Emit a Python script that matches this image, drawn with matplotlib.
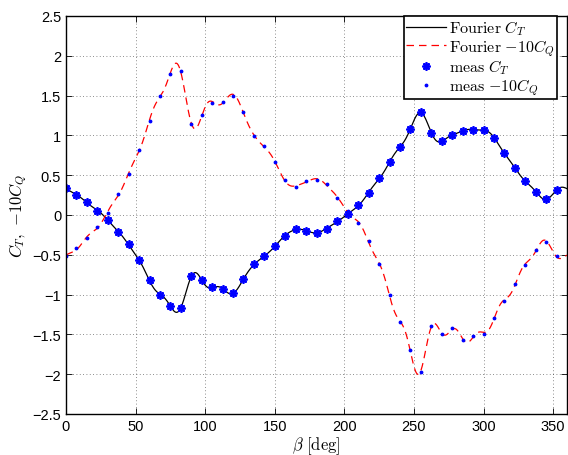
import numpy as np
import matplotlib
matplotlib.use('Agg')
import matplotlib.pyplot as plt

plt.rcParams['font.family'] = ['Liberation Sans', 'DejaVu Sans']
plt.rcParams['mathtext.fontset'] = 'cm'

# measured blade angle positions [deg]
beta = np.arange(0, 360, 7.5)

ct = [0.335, 0.25, 0.16, 0.055, -0.06, -0.21, -0.37, -0.57,
      -0.82, -1.00, -1.14, -1.17, -0.77, -0.82, -0.91, -0.93,
      -0.98, -0.81, -0.62, -0.52, -0.39, -0.26, -0.18, -0.20,
      -0.22, -0.17, -0.08, 0.01, 0.12, 0.28, 0.46, 0.66,
      0.86, 1.08, 1.29, 1.03, 0.93, 1.00, 1.06, 1.07,
      1.07, 0.97, 0.78, 0.59, 0.43, 0.29, 0.20, 0.31]

cq10 = [-0.52, -0.42, -0.29, -0.15, 0.03, 0.26, 0.51, 0.82,
        1.18, 1.50, 1.77, 1.81, 1.14, 1.26, 1.41, 1.42,
        1.50, 1.30, 0.99, 0.87, 0.66, 0.44, 0.35, 0.43,
        0.44, 0.385, 0.21, 0.05, -0.10, -0.33, -0.62, -1.00,
        -1.35, -1.70, -1.97, -1.39, -1.50, -1.42, -1.57, -1.52,
        -1.49, -1.29, -1.08, -0.87, -0.63, -0.44, -0.34, -0.51]


def fourier_curve(y, bfine, nharm=23):
    # trigonometric series built from the measured samples
    y = np.asarray(y)
    n = len(y)
    c = np.fft.rfft(y) / n
    th = np.deg2rad(bfine)
    out = np.full_like(th, c[0].real)
    for k in range(1, nharm + 1):
        out += 2 * (c[k].real * np.cos(k * th) - c[k].imag * np.sin(k * th))
    return out


bfine = np.linspace(0, 360, 1441)

fig = plt.figure(figsize=(5.68, 4.56), dpi=100)
ax = fig.add_axes([66 / 568, 41 / 456, 501 / 568, 398 / 456])

ax.plot(bfine, fourier_curve(ct, bfine), '-', color='black', lw=0.9,
        label=r'$\mathrm{Fourier}\ C_T$')
ax.plot(bfine, fourier_curve(cq10, bfine), '--', color='red', lw=0.9,
        dashes=(6, 4), label=r'$\mathrm{Fourier}\ {-10}C_Q$')
ax.plot(beta, ct, linestyle='none', marker=(8, 2, 0), markersize=6,
        mew=1.3, color='blue', label=r'$\mathrm{meas}\ C_T$')
ax.plot(beta, cq10, linestyle='none', marker='.', markersize=3.5,
        color='blue', label=r'$\mathrm{meas}\ {-10}C_Q$')

ax.set_xlim(0, 360)
ax.set_ylim(-2.5, 2.5)
ax.set_xticks(np.arange(0, 351, 50))
ax.set_yticks(np.arange(-2.5, 2.51, 0.5))
ax.set_yticklabels(['\u22122.5', '\u22122', '\u22121.5', '\u22121', '\u22120.5',
                    '0', '0.5', '1', '1.5', '2', '2.5'])
ax.tick_params(direction='in', top=True, right=True, labelsize=10.5,
               length=4, width=0.6)
ax.grid(True, linestyle=(0, (1, 3)), color='black', lw=0.6, alpha=0.6)
for s in ax.spines.values():
    s.set_linewidth(1.0)

ax.set_xlabel(r'$\beta\ \mathrm{[deg]}$', fontsize=12)
ax.set_ylabel(r'$C_T,\ {-10}C_Q$', fontsize=12)
ax.xaxis.set_label_coords(0.5, -0.052)
ax.yaxis.set_label_coords(-0.074, 0.5)

leg = ax.legend(loc='upper right', fontsize=11.5, fancybox=False,
                edgecolor='black', framealpha=1, borderpad=0.15,
                labelspacing=0.0, handlelength=2.5, handletextpad=0.15,
                bbox_to_anchor=(557 / 568, 439 / 456),
                bbox_transform=fig.transFigure, borderaxespad=0.0)
leg.get_frame().set_linewidth(1.2)

fig.savefig('out.png', dpi=100)
